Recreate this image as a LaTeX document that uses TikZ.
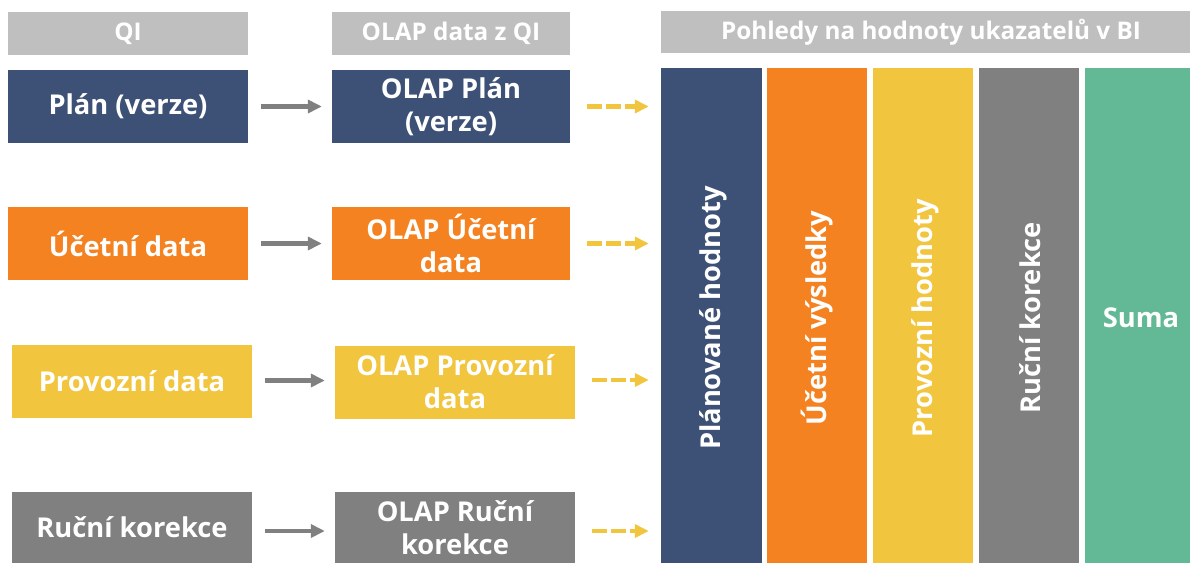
\documentclass[tikz,border=0pt]{standalone}
\usepackage{fontspec}
\setmainfont{Open Sans}[BoldFont={* Bold}]
\usetikzlibrary{arrows.meta}
\definecolor{navy}{HTML}{3D5176}
\definecolor{orng}{HTML}{F58220}
\definecolor{yel}{HTML}{F2C53F}
\definecolor{gry}{HTML}{808080}
\definecolor{grn}{HTML}{63B995}
\definecolor{hdr}{HTML}{BFBFBF}
\tikzset{
  box/.style={rectangle, inner sep=0pt, text=white, font=\fontsize{27.3}{33}\selectfont\bfseries, align=center, minimum width=240pt, minimum height=73pt},
  hbox/.style={rectangle, inner sep=0pt, fill=hdr, text=white, font=\fontsize{24.3}{28}\selectfont\bfseries, minimum height=43pt},
  col/.style={rectangle, inner sep=0pt, minimum width=101pt, minimum height=495pt},
  vlab/.style={text=white, font=\fontsize{27.3}{33}\selectfont\bfseries, rotate=90},
  garrow/.style={draw=gry, line width=4.5pt, -{Triangle[length=14pt,width=13pt]}, shorten <=13pt, shorten >=10pt},
  yarrow/.style={draw=yel, line width=4.5pt, dash pattern=on 15pt off 4pt, -{Triangle[length=14pt,width=13pt]}, shorten <=17pt, shorten >=12pt}
}
\begin{document}
\begin{tikzpicture}[x=1pt,y=-1pt]
\useasboundingbox (0,0) rectangle (1190,563);
% headers
\node[hbox, minimum width=240pt] (h1) at (128,33.5) {QI};
\node[hbox, minimum width=238pt] (h2) at (451,33.5) {OLAP data z QI};
\node[hbox, minimum width=540pt, minimum height=42pt] (h3) at (931,32) {Pohledy na hodnoty ukazatelů v BI};
% left column
\node[box, fill=navy] (p1) at (128,106.5) {Plán (verze)};
\node[box, fill=orng] (p2) at (128,243.5) {Účetní data};
\node[box, fill=yel] (p3) at (132,381.5) {Provozní data};
\node[box, fill=gry, minimum height=71pt] (p4) at (132,527.5) {Ruční korekce};
% OLAP column
\node[box, fill=navy, minimum width=238pt] (o1) at (451,106.5) {OLAP Plán\\(verze)};
\node[box, fill=orng, minimum width=238pt] (o2) at (451,243.5) {OLAP Účetní\\data};
\node[box, fill=yel] (o3) at (455,382) {OLAP Provozní\\data};
\node[box, fill=gry, minimum height=71pt] (o4) at (455,527.5) {OLAP Ruční\\korekce};
% right columns
\node[col, fill=navy] (c1) at (711.5,315.5) {};
\node[col, fill=orng, minimum width=100pt] (c2) at (817,315.5) {};
\node[col, fill=yel, minimum width=100pt] (c3) at (923,315.5) {};
\node[col, fill=gry, minimum width=100pt] (c4) at (1029,315.5) {};
\node[col, fill=grn, minimum width=110pt] (c5) at (1140,315.5) {};
\node[vlab] (l1) at (713,318) {Plánované hodnoty};
\node[vlab] (l2) at (817,318) {Účetní výsledky};
\node[vlab] (l3) at (925,318) {Provozní hodnoty};
\node[vlab] (l4) at (1030,318) {Ruční korekce};
\node[text=white, font=\fontsize{27.3}{33}\selectfont\bfseries] (l5) at (1141,318) {Suma};
% arrows
\draw[garrow] (p1.east) -- (o1.west);
\draw[garrow] (p2.east) -- (o2.west);
\draw[garrow] ([yshift=1pt]p3.east) -- ([yshift=1pt]o3.west |- p3.east);
\draw[garrow] ([yshift=-3.5pt]p4.east) -- ([yshift=-3.5pt]o4.west);
\draw[yarrow] (o1.east) -- (o1.east -| c1.west);
\draw[yarrow] (o2.east) -- (o2.east -| c1.west);
\draw[yarrow] ([yshift=2pt]o3.east) -- ([yshift=2pt]o3.east -| c1.west);
\draw[yarrow] ([yshift=-3.5pt]o4.east) -- ([yshift=-3.5pt]o4.east -| c1.west);
\end{tikzpicture}
\end{document}
